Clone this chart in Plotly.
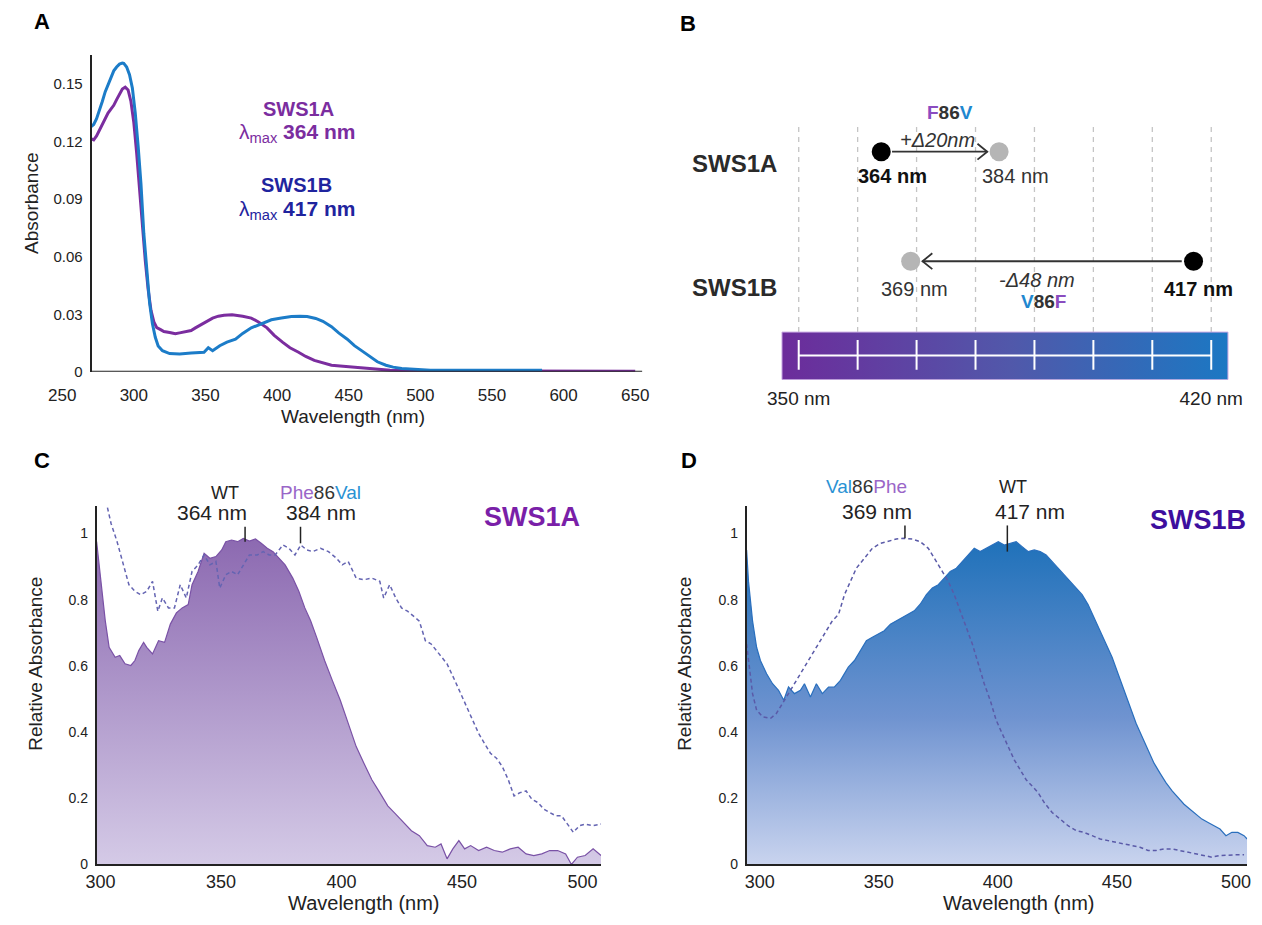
import plotly.graph_objects as go

W, H = 1262, 925
FONT = "Liberation Sans, Arial, Helvetica, sans-serif"


def X(p):
    return p / W


def Y(p):
    return 1 - p / H


# ---------------- Panel A : absorbance spectra (wavelength nm, absorbance) ----------------
a_sws1a = [(270, 0.1216), (272, 0.121), (274, 0.123), (276, 0.126), (278, 0.129), (280, 0.132),
           (282, 0.135), (284, 0.137), (286, 0.139), (288, 0.142), (290, 0.145), (292, 0.1475),
           (294, 0.1485), (296, 0.147), (298, 0.141), (300, 0.130), (302, 0.114), (304, 0.095),
           (306, 0.075), (308, 0.058), (310, 0.043), (312, 0.032), (314, 0.026), (316, 0.023),
           (318.7, 0.022), (321, 0.021), (325, 0.0205), (329, 0.0198), (332, 0.0203), (336, 0.021),
           (340, 0.0215), (343, 0.0229), (347, 0.0245), (351, 0.026), (355, 0.028), (359, 0.029),
           (363, 0.0295), (368.6, 0.0297), (372, 0.0295), (376, 0.029), (382, 0.028), (387, 0.026),
           (393, 0.0229), (398, 0.019), (404, 0.0153), (409, 0.0125), (415, 0.0102), (420, 0.008),
           (426, 0.0059), (432, 0.0045), (438, 0.0034), (444, 0.003), (451, 0.0025), (460, 0.0018),
           (470, 0.0012), (479, 0.0008), (490, 0.0006), (500, 0.0005), (520, 0.0005), (540, 0.0004),
           (560, 0.0004), (580, 0.0004), (600, 0.0003), (620, 0.0003), (640, 0.0002), (650, 0.0002)]
a_sws1b = [(270, 0.1278), (272, 0.129), (274, 0.132), (276, 0.136), (278, 0.141), (280, 0.146),
           (282, 0.150), (284, 0.154), (286, 0.157), (288, 0.159), (290, 0.1605), (292, 0.161),
           (293, 0.1609), (295, 0.159), (297, 0.155), (299, 0.148), (301, 0.135), (303, 0.118),
           (305, 0.098), (307, 0.072), (309, 0.052), (311, 0.036), (313, 0.025), (315, 0.018),
           (317, 0.0135), (320, 0.011), (325, 0.0095), (332, 0.0093), (340, 0.0098), (349, 0.0102),
           (352, 0.0125), (355, 0.011), (360, 0.0136), (365, 0.0155), (371, 0.017), (376, 0.020),
           (382, 0.0229), (389, 0.0252), (396, 0.0271), (403, 0.028), (410, 0.0288), (416, 0.029),
           (421, 0.0288), (427, 0.0278), (432, 0.0263), (438, 0.0235), (443, 0.0203), (449, 0.017),
           (454, 0.0136), (460, 0.0105), (465, 0.0076), (470, 0.0052), (476, 0.0034), (481, 0.0024),
           (487, 0.0017), (495, 0.0012), (507, 0.0008), (530, 0.0008), (555, 0.0008), (585, 0.0008)]
a_xticks = [250, 300, 350, 400, 450, 500, 550, 600, 650]
a_yticks = [0, 0.03, 0.06, 0.09, 0.12, 0.15]
a_ytext = ["0", "0.03", "0.06", "0.09", "0.12", "0.15"]

# ---------------- Panel B : lambda-max shifts ----------------
b_rows = ["SWS1A", "SWS1B"]          # row 1 / row 0
b_wt_nm = [364, 417]
b_mut_nm = [384, 369]
b_scale_nm = [350, 360, 370, 380, 390, 400, 410, 420]

# ---------------- Panel C : SWS1A relative absorbance ----------------
c_wt = [(298.4, 0.975), (300.3, 0.845), (302.0, 0.736), (303.6, 0.656), (306.1, 0.626), (308.0, 0.631),
        (310.2, 0.606), (312.6, 0.601), (314.3, 0.616), (315.9, 0.646), (317.9, 0.671), (319.2, 0.656),
        (321.6, 0.636), (324.1, 0.676), (326.6, 0.671), (329.0, 0.726), (331.5, 0.760), (333.9, 0.775),
        (336.4, 0.785), (338.0, 0.845), (340.5, 0.885), (343.0, 0.940), (345.4, 0.925), (347.9, 0.930),
        (350.3, 0.950), (352.0, 0.975), (354.4, 0.980), (356.9, 0.975), (359.3, 0.985), (361.8, 0.977),
        (364.3, 0.983), (366.7, 0.970), (369.2, 0.955), (371.6, 0.945), (374.1, 0.925), (376.6, 0.905),
        (379.8, 0.865), (382.3, 0.825), (384.8, 0.775), (387.2, 0.736), (389.7, 0.686), (393.0, 0.616),
        (396.2, 0.556), (399.5, 0.496), (402.8, 0.426), (406.1, 0.356), (409.3, 0.306), (412.6, 0.256),
        (415.9, 0.217), (419.2, 0.177), (422.5, 0.152), (425.7, 0.127), (429.0, 0.102), (432.3, 0.087),
        (435.6, 0.057), (438.9, 0.052), (441.3, 0.062), (443.8, 0.017), (446.2, 0.047), (448.7, 0.072),
        (451.1, 0.047), (453.6, 0.057), (456.9, 0.042), (460.2, 0.052), (463.4, 0.042), (466.7, 0.037),
        (470.0, 0.047), (473.3, 0.052), (476.6, 0.032), (479.8, 0.027), (483.1, 0.032), (486.4, 0.042),
        (489.7, 0.042), (493.0, 0.032), (495.4, 0.000), (497.9, 0.022), (501.1, 0.027), (504.4, 0.047),
        (507.7, 0.027)]
c_mut = [(302.9, 1.078), (304.4, 1.03), (306.9, 0.975), (309.3, 0.915), (311.8, 0.845), (314.3, 0.825),
         (316.7, 0.815), (319.2, 0.825), (321.6, 0.855), (323.8, 0.765), (325.7, 0.805), (328.2, 0.775),
         (330.7, 0.775), (333.1, 0.845), (335.6, 0.805), (338.0, 0.885), (340.5, 0.905), (343.0, 0.935),
         (345.4, 0.905), (347.9, 0.915), (349.5, 0.835), (352.0, 0.875), (354.4, 0.885), (356.9, 0.875),
         (359.3, 0.905), (361.8, 0.935), (365.1, 0.935), (367.5, 0.945), (370.0, 0.935), (372.5, 0.935),
         (375.7, 0.965), (378.2, 0.955), (380.7, 0.935), (383.1, 0.965), (385.6, 0.950), (388.0, 0.945),
         (391.3, 0.955), (394.6, 0.945), (397.9, 0.925), (400.3, 0.905), (402.8, 0.915), (406.1, 0.865),
         (409.3, 0.860), (412.6, 0.865), (415.9, 0.855), (417.5, 0.805), (420.0, 0.845), (422.5, 0.805),
         (424.9, 0.775), (427.4, 0.765), (430.7, 0.745), (432.3, 0.735), (434.8, 0.676), (437.2, 0.666),
         (440.5, 0.636), (443.8, 0.606), (447.0, 0.556), (449.5, 0.516), (452.0, 0.476), (454.4, 0.436),
         (456.9, 0.396), (459.3, 0.366), (461.8, 0.336), (464.3, 0.321), (466.7, 0.296), (469.2, 0.256),
         (471.6, 0.207), (474.1, 0.217), (476.6, 0.222), (479.0, 0.197), (481.5, 0.187), (483.9, 0.167),
         (486.4, 0.157), (488.9, 0.147), (491.3, 0.147), (493.8, 0.122), (496.2, 0.097), (498.7, 0.117),
         (501.1, 0.122), (504.4, 0.117), (507.7, 0.122)]
c_peak_marks = [360, 383]

# ---------------- Panel D : SWS1B relative absorbance ----------------
d_wt = [(294.5, 0.950), (295.3, 0.855), (297.0, 0.736), (298.7, 0.656), (300.3, 0.616), (302.9, 0.576),
        (305.4, 0.546), (307.9, 0.526), (310.1, 0.496), (312.1, 0.536), (314.6, 0.516), (317.1, 0.526),
        (318.8, 0.546), (321.3, 0.506), (323.8, 0.546), (326.3, 0.516), (328.9, 0.536), (331.4, 0.536),
        (333.9, 0.556), (337.2, 0.596), (339.8, 0.616), (342.3, 0.646), (344.8, 0.676), (347.3, 0.686),
        (349.8, 0.696), (352.3, 0.706), (354.9, 0.726), (357.4, 0.736), (359.9, 0.746), (362.4, 0.756),
        (364.9, 0.766), (367.4, 0.786), (370.0, 0.815), (372.5, 0.835), (375.0, 0.845), (377.5, 0.865),
        (380.0, 0.885), (382.6, 0.895), (385.1, 0.915), (387.6, 0.935), (390.1, 0.955), (392.6, 0.945),
        (395.1, 0.955), (397.7, 0.965), (400.2, 0.975), (402.7, 0.965), (405.2, 0.970), (407.7, 0.975),
        (410.2, 0.960), (412.8, 0.945), (415.3, 0.950), (417.8, 0.945), (420.3, 0.935), (422.8, 0.915),
        (425.3, 0.895), (427.9, 0.875), (430.4, 0.855), (432.9, 0.835), (435.4, 0.815), (437.9, 0.785),
        (440.4, 0.746), (443.0, 0.706), (445.5, 0.666), (448.0, 0.626), (450.5, 0.576), (453.0, 0.526),
        (455.5, 0.476), (458.1, 0.426), (460.6, 0.386), (463.1, 0.346), (465.6, 0.306), (468.1, 0.276),
        (470.6, 0.247), (473.2, 0.222), (475.7, 0.202), (478.2, 0.182), (480.7, 0.167), (483.2, 0.152),
        (485.7, 0.137), (488.3, 0.127), (490.8, 0.117), (493.3, 0.107), (495.8, 0.087), (498.3, 0.097),
        (500.8, 0.097), (503.4, 0.087), (504.7, 0.077)]
d_mut = [(294.5, 0.666), (295.6, 0.596), (297.0, 0.516), (298.7, 0.466), (301.2, 0.446), (304.5, 0.441),
         (307.0, 0.456), (310.4, 0.496), (313.8, 0.536), (317.1, 0.576), (320.5, 0.616), (323.8, 0.656),
         (327.2, 0.696), (330.5, 0.736), (333.1, 0.755), (335.6, 0.815), (338.1, 0.855), (340.6, 0.895),
         (344.0, 0.925), (347.3, 0.955), (350.7, 0.970), (354.0, 0.977), (357.4, 0.983), (360.7, 0.985),
         (364.1, 0.983), (367.4, 0.975), (370.8, 0.955), (374.2, 0.915), (376.7, 0.885), (379.2, 0.855),
         (381.7, 0.815), (384.2, 0.765), (386.7, 0.716), (389.3, 0.666), (391.8, 0.606), (394.3, 0.546),
         (396.8, 0.496), (399.3, 0.436), (401.8, 0.396), (404.4, 0.356), (406.9, 0.316), (409.4, 0.286),
         (411.9, 0.256), (414.4, 0.237), (416.9, 0.217), (419.5, 0.187), (422.8, 0.157), (426.2, 0.137),
         (429.5, 0.117), (432.9, 0.102), (436.2, 0.097), (439.6, 0.087), (443.0, 0.077), (446.3, 0.072),
         (449.7, 0.067), (453.0, 0.062), (456.4, 0.057), (459.7, 0.052), (463.1, 0.042), (466.4, 0.042),
         (469.8, 0.047), (473.2, 0.047), (476.5, 0.042), (479.9, 0.037), (483.2, 0.032), (486.6, 0.029),
         (489.9, 0.022), (493.3, 0.027), (496.6, 0.029), (500.0, 0.029), (503.4, 0.029)]
d_peak_marks = [361, 404]

cd_xticks = [300, 350, 400, 450, 500]
cd_yticks = [0, 0.2, 0.4, 0.6, 0.8, 1]
cd_ytext = ["0", "0.2", "0.4", "0.6", "0.8", "1"]

# ---------------- colours ----------------
PURPLE_A = "#7b2d9f"
BLUE_A = "#1c7cc8"
F_PURPLE = "#8a4cc0"
V_BLUE = "#1f88d0"
DARK = "#2a2a2a"


def unzip(pairs):
    return [p[0] for p in pairs], [p[1] for p in pairs]


fig = go.Figure()

# ---- Panel A traces ----
x, y = unzip(a_sws1a)
fig.add_trace(go.Scatter(x=x, y=y, mode="lines", line=dict(color=PURPLE_A, width=3),
                         xaxis="x", yaxis="y", showlegend=False, hoverinfo="skip"))
x, y = unzip(a_sws1b)
fig.add_trace(go.Scatter(x=x, y=y, mode="lines", line=dict(color=BLUE_A, width=3),
                         xaxis="x", yaxis="y", showlegend=False, hoverinfo="skip"))

# ---- Panel B ----
NM_PER_PX = 10 / 59.93
ROW_A, ROW_B = 1, 0
PX_PER_ROW = 110.5


def row_y(py):
    return (263.5 - py) / PX_PER_ROW


bar_pad = 17 * NM_PER_PX
bx0, bx1 = b_scale_nm[0] - bar_pad, b_scale_nm[-1] + bar_pad
by0, by1 = row_y(335), row_y(383)
fig.add_trace(go.Scatter(x=[bx0, bx1, bx1, bx0, bx0], y=[by0, by0, by1, by1, by0], mode="lines",
                         fill="toself", line=dict(color="#c7a6e2", width=1),
                         fillgradient=dict(type="horizontal", start=bx0, stop=bx1,
                                           colorscale=[[0, "#6c2c9b"], [0.5, "#5158aa"], [1, "#1979c4"]]),
                         xaxis="x2", yaxis="y2", showlegend=False, hoverinfo="skip"))
# white scale line and ticks
fig.add_trace(go.Scatter(x=[b_scale_nm[0], b_scale_nm[-1]], y=[row_y(358.5)] * 2, mode="lines",
                         line=dict(color="white", width=2), xaxis="x2", yaxis="y2",
                         showlegend=False, hoverinfo="skip"))
tx, ty = [], []
for v in b_scale_nm:
    tx += [v, v, None]
    ty += [row_y(343), row_y(373), None]
fig.add_trace(go.Scatter(x=tx, y=ty, mode="lines", line=dict(color="white", width=2),
                         xaxis="x2", yaxis="y2", showlegend=False, hoverinfo="skip"))

# arrows (line + open chevron)
chev_dx = 10 * NM_PER_PX
chev_dy = 8 / PX_PER_ROW
ax, ay = [], []
# SWS1A: wild type -> mutant (rightwards)
s0, s1 = b_wt_nm[0] + 11 * NM_PER_PX, b_mut_nm[0] - 12 * NM_PER_PX
ax += [s0, s1, None, s1 - chev_dx, s1, s1 - chev_dx, None]
ay += [ROW_A, ROW_A, None, ROW_A + chev_dy, ROW_A, ROW_A - chev_dy, None]
# SWS1B: wild type -> mutant (leftwards)
s0, s1 = b_wt_nm[1] - 12 * NM_PER_PX, b_mut_nm[1] + 12 * NM_PER_PX
ax += [s0, s1, None, s1 + chev_dx, s1, s1 + chev_dx, None]
ay += [ROW_B, ROW_B, None, ROW_B + chev_dy, ROW_B, ROW_B - chev_dy, None]
fig.add_trace(go.Scatter(x=ax, y=ay, mode="lines", line=dict(color="#333333", width=1.8),
                         xaxis="x2", yaxis="y2", showlegend=False, hoverinfo="skip"))

# dots
fig.add_trace(go.Scatter(x=[b_wt_nm[0], b_mut_nm[0], b_mut_nm[1], b_wt_nm[1]],
                         y=[ROW_A, ROW_A, ROW_B, ROW_B], mode="markers",
                         marker=dict(size=19, color=["#000000", "#b5b5b5", "#b5b5b5", "#000000"],
                                     line=dict(width=0)),
                         xaxis="x2", yaxis="y2", showlegend=False, hoverinfo="skip"))

# ---- Panel C ----
x, y = unzip(c_wt)
fig.add_trace(go.Scatter(x=x, y=y, mode="lines", fill="tozeroy",
                         line=dict(color="#7a52a6", width=1.2),
                         fillgradient=dict(type="vertical", start=0, stop=1,
                                           colorscale=[[0, "#d5cbe7"], [1, "#8b68b0"]]),
                         xaxis="x3", yaxis="y3", showlegend=False, hoverinfo="skip"))
x, y = unzip(c_mut)
fig.add_trace(go.Scatter(x=x, y=y, mode="lines", line=dict(color="#6464b2", width=1.5, dash="4px,3px"),
                         xaxis="x3", yaxis="y3", showlegend=False, hoverinfo="skip"))

# ---- Panel D ----
x, y = unzip(d_wt)
fig.add_trace(go.Scatter(x=x, y=y, mode="lines", fill="tozeroy",
                         line=dict(color="#2a6fbd", width=1.2),
                         fillgradient=dict(type="vertical", start=0, stop=1,
                                           colorscale=[[0, "#cbd5ef"], [0.45, "#6f93d0"], [1, "#1c70b9"]]),
                         xaxis="x4", yaxis="y4", showlegend=False, hoverinfo="skip"))
x, y = unzip(d_mut)
fig.add_trace(go.Scatter(x=x, y=y, mode="lines", line=dict(color="#5a5aa8", width=1.5, dash="4px,3px"),
                         xaxis="x4", yaxis="y4", showlegend=False, hoverinfo="skip"))

# ---------------- shapes ----------------
shapes = []
# panel A bottom axis line (starts at the y axis, 270 nm)
shapes.append(dict(type="line", xref="x", yref="y", x0=a_sws1a[0][0], x1=655, y0=0, y1=0,
                   line=dict(color="#222", width=2)))
# panel B dashed guides
for v in b_scale_nm:
    shapes.append(dict(type="line", xref="x2", yref="y2", x0=v, x1=v, y0=row_y(335), y1=row_y(125),
                       line=dict(color="#c4c4c4", width=1.3, dash="5px,5px"), layer="below"))
# peak marks in C and D
shapes.append(dict(type="line", xref="x3", yref="y3", x0=c_peak_marks[0], x1=c_peak_marks[0],
                   y0=0.975, y1=1.02, line=dict(color="#222", width=1.5)))
shapes.append(dict(type="line", xref="x3", yref="y3", x0=c_peak_marks[1], x1=c_peak_marks[1],
                   y0=0.97, y1=1.02, line=dict(color="#222", width=1.5)))
shapes.append(dict(type="line", xref="x4", yref="y4", x0=d_peak_marks[0], x1=d_peak_marks[0],
                   y0=0.985, y1=1.024, line=dict(color="#222", width=1.5)))
shapes.append(dict(type="line", xref="x4", yref="y4", x0=d_peak_marks[1], x1=d_peak_marks[1],
                   y0=0.945, y1=1.024, line=dict(color="#222", width=1.5)))

# ---------------- annotations ----------------
anns = []


def ann(text, xp, yp, size, color="#222", angle=0):
    anns.append(dict(text=text, x=X(xp), y=Y(yp), xref="paper", yref="paper", showarrow=False,
                     xanchor="center", yanchor="middle", textangle=angle,
                     font=dict(family=FONT, size=size, color=color)))


def sp(txt, col):
    return f"<span style='color:{col}'>{txt}</span>"


# panel letters
ann("<b>A</b>", 28, 22, 22, "#000")
ann("<b>B</b>", 685, 24, 22, "#000")
ann("<b>C</b>", 28, 465, 22, "#000")
ann("<b>D</b>", 686, 465, 22, "#000")

# panel A
ann("Absorbance", 18, 205, 19, "#222", -90)
ann("Wavelength (nm)", 345, 420, 19)
ann(f"<b>{b_rows[0]}</b>", 289, 110, 20, PURPLE_A)
ann(f"λ<sub>max</sub> <b>{b_wt_nm[0]} nm</b>", 288, 134, 21, PURPLE_A)
ann(f"<b>{b_rows[1]}</b>", 287, 187, 20, "#1f249e")
ann(f"λ<sub>max</sub> <b>{b_wt_nm[1]} nm</b>", 288, 212, 21, "#1f249e")

# panel B
ann(f"<b>{b_rows[0]}</b>", 733, 165, 24, DARK)
ann(f"<b>{b_rows[1]}</b>", 733, 290, 24, DARK)
ann("<b>" + sp("F", F_PURPLE) + "86" + sp("V", V_BLUE) + "</b>", 952, 113, 19, "#333")
ann(f"<i>+Δ{b_mut_nm[0] - b_wt_nm[0]}nm</i>", 939, 141, 20, "#333")
ann(f"<b>{b_wt_nm[0]} nm</b>", 893, 178, 20, "#111")
ann(f"{b_mut_nm[0]} nm", 1018, 178, 20, "#333")
ann(f"{b_mut_nm[1]} nm", 916, 292, 20, "#333")
ann(f"<i>-Δ{b_wt_nm[1] - b_mut_nm[1]} nm</i>", 1040, 282, 20, "#333")
ann("<b>" + sp("V", V_BLUE) + "86" + sp("F", F_PURPLE) + "</b>", 1047, 304, 19, "#333")
ann(f"<b>{b_wt_nm[1]} nm</b>", 1205, 292, 20, "#111")

# panel C
ann("Relative Absorbance", 22, 670, 19, "#222", -90)
ann("Wavelength (nm)", 356, 911, 20)
ann("WT", 215, 497, 18)
ann(f"{b_wt_nm[0]} nm", 201, 517, 21)
ann(sp("Phe", "#9a66c8") + "86" + sp("Val", "#2a92d4"), 312, 497, 19, "#333")
ann(f"{b_mut_nm[0]} nm", 312, 517, 21)
ann(f"<b>{b_rows[0]}</b>", 527, 522, 27, "#7a1fa8")

# panel D
ann("Relative Absorbance", 682, 670, 19, "#222", -90)
ann("Wavelength (nm)", 1022, 911, 20)
ann(sp("Val", "#2a92d4") + "86" + sp("Phe", "#9a66c8"), 867, 491, 19, "#333")
ann(f"{b_mut_nm[1]} nm", 878, 516, 21)
ann("WT", 1016, 491, 18)
ann(f"{b_wt_nm[1]} nm", 1033, 516, 21)
ann(f"<b>{b_rows[1]}</b>", 1204, 525, 27, "#3d0f9e")

# ---------------- axes ----------------
noax = dict(showgrid=False, zeroline=False, ticks="", fixedrange=True)
tickf = lambda s: dict(family=FONT, size=s, color="#222")

bx_left = b_scale_nm[0] - (798 - 690) * NM_PER_PX
bx_right = b_scale_nm[-1] + (1262 - 1217.5) * NM_PER_PX

fig.update_layout(
    width=W, height=H, autosize=False,
    margin=dict(l=0, r=0, t=0, b=0),
    paper_bgcolor="white", plot_bgcolor="rgba(0,0,0,0)",
    font=dict(family=FONT, color="#222"),
    showlegend=False,
    # panel A
    xaxis=dict(domain=[X(49), X(639)], range=[250, 655], tickvals=a_xticks, tickfont=tickf(17),
               showline=False, anchor="y", ticklabelstandoff=11, **noax),
    yaxis=dict(domain=[Y(375), Y(55)], range=[0, 0.1655], tickvals=a_yticks, ticktext=a_ytext,
               tickfont=tickf(15), showline=True, linecolor="#222", linewidth=2,
               anchor="free", position=X(78), ticklabelstandoff=4, **noax),
    # panel B
    xaxis2=dict(domain=[X(690), X(1262)], range=[bx_left, bx_right], tickvals=[b_scale_nm[0], b_scale_nm[-1]],
                ticktext=[f"{b_scale_nm[0]} nm", f"{b_scale_nm[-1]} nm"], tickfont=tickf(19),
                showline=False, anchor="y2", ticklabelstandoff=5, **noax),
    yaxis2=dict(domain=[Y(383), Y(100)], range=[row_y(383), row_y(100)], visible=False,
                anchor="x2", **noax),
    # panel C
    xaxis3=dict(domain=[X(84), X(597)], range=[298.4, 507.7], tickvals=cd_xticks, tickfont=tickf(18),
                showline=True, linecolor="#222", linewidth=1.5, anchor="y3", **noax),
    yaxis3=dict(domain=[Y(872), Y(510)], range=[0, 1.084], tickvals=cd_yticks, ticktext=cd_ytext,
                tickfont=tickf(14), showline=True, linecolor="#222", linewidth=1.5, anchor="x3",
                ticklabelstandoff=4, **noax),
    # panel D
    xaxis4=dict(domain=[X(745), X(1254)], range=[294.5, 504.7], tickvals=cd_xticks, tickfont=tickf(18),
                showline=True, linecolor="#222", linewidth=1.5, anchor="y4", **noax),
    yaxis4=dict(domain=[Y(872), Y(510)], range=[0, 1.084], tickvals=cd_yticks, ticktext=cd_ytext,
                tickfont=tickf(14), showline=True, linecolor="#222", linewidth=1.5, anchor="x4",
                ticklabelstandoff=4, **noax),
    shapes=shapes,
    annotations=anns,
)

fig.write_html("out.html", config=dict(displayModeBar=False),
               post_script="document.body.style.margin='0';document.body.style.overflow='hidden';")
